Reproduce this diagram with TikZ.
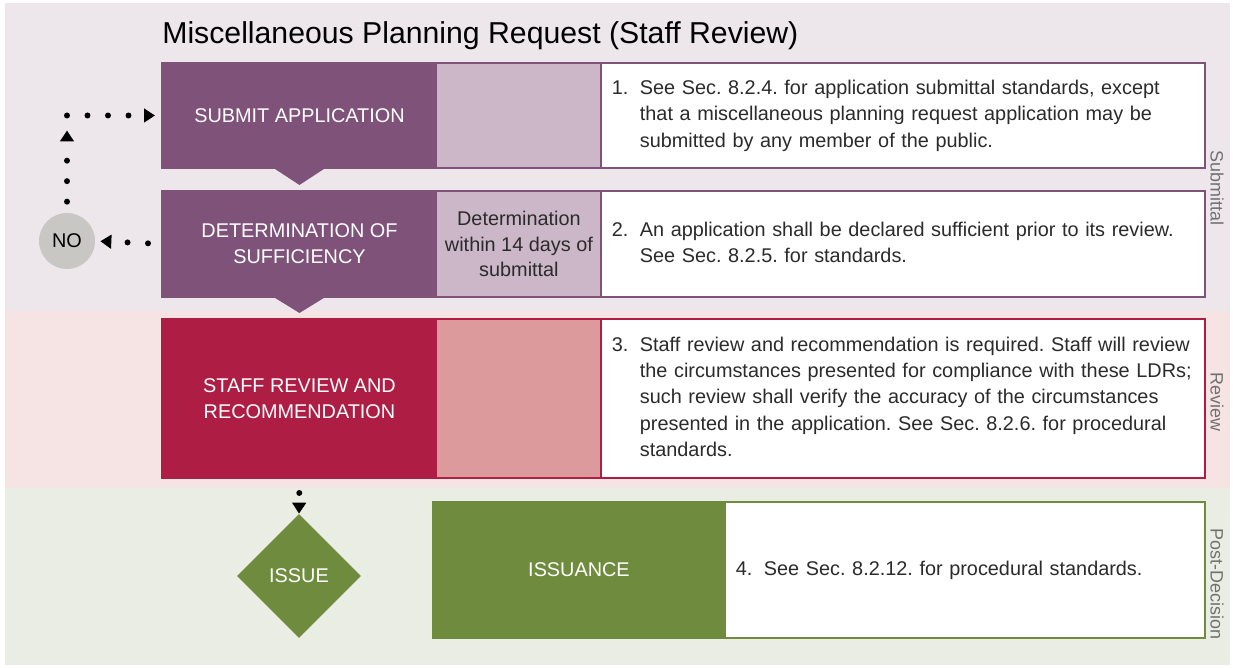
\documentclass[tikz,border=0pt]{standalone}
\usepackage{fontspec}
\setmainfont{Liberation Sans}
\frenchspacing
\usetikzlibrary{positioning,shapes.geometric,arrows.meta}
\definecolor{subband}{HTML}{EDE6EB}
\definecolor{revband}{HTML}{F6E3E3}
\definecolor{postband}{HTML}{EAEDE4}
\definecolor{purp}{HTML}{7F5279}
\definecolor{purplight}{HTML}{CBB7C8}
\definecolor{crim}{HTML}{AE1D44}
\definecolor{crimlight}{HTML}{DC9A9C}
\definecolor{leaf}{HTML}{6F8C3E}
\definecolor{nogray}{HTML}{C9C7C4}
\definecolor{sidegray}{HTML}{707070}
\definecolor{ink}{HTML}{2B2B2B}
\tikzset{
  phase/.style={fill=#1, text=white, inner sep=0pt, outer sep=0pt, align=center,
    font=\fontsize{11.3}{14.7}\selectfont},
  timing/.style={fill=#1, text=ink, inner sep=0pt, outer sep=0pt, align=center,
    font=\fontsize{11.3}{14.7}\selectfont},
  notebox/.style={draw=#1, line width=1.1pt, fill=white, text=ink, inner xsep=0.22cm,
    inner ysep=0pt, outer sep=0pt, align=left, font=\fontsize{11.3}{15}\selectfont},
  rowframe/.style={draw=#1, line width=1.1pt},
  flowdots/.style={line width=3.4pt, line cap=round, dash pattern=on 0pt off 0.41cm,
    -{Triangle[length=0.22cm,width=0.27cm]}},
  sidelabel/.style={rotate=-90, text=sidegray, inner sep=0pt, font=\fontsize{10.2}{12}\selectfont}
}
\newcommand{\stepnote}[2]{\begin{tabular}{@{}p{0.56cm}@{}l@{}}#1 & #2\end{tabular}}

\begin{document}
\begin{tikzpicture}[x=0.02cm, y=-0.02cm]
	\useasboundingbox (0,0) rectangle (1233,668);
	\fill[subband] (5,3) rectangle (1230,311);
	\fill[revband] (5,311) rectangle (1230,488);
	\fill[postband] (5,488) rectangle (1230,665);

	\node[anchor=base west, inner sep=0pt, font=\fontsize{17.2}{20}\selectfont] (title) at (162,44) {Miscellaneous Planning Request (Staff Review)};

	\node[phase=purp, anchor=north west, minimum width=5.5cm, minimum height=2.1cm] (submit) at (162,63) {SUBMIT APPLICATION};
	\node[timing=purplight, right=0pt of submit, minimum width=3.28cm, minimum height=2.1cm] (submittime) {};
	\node[notebox=purp, right=0pt of submittime, text width=11.64cm, minimum height=2.1cm] (note1) {\stepnote{1.}{See Sec. 8.2.4. for application submittal standards, except\\ & that a miscellaneous planning request application may be\\ & submitted by any member of the public.}};
	\draw[rowframe=purp] (submit.north west) rectangle (note1.south east);
	\fill[purp] (submit.south) ++(-26,0) -- ++(52,0) -- ++(-26,17) -- cycle;

	\node[phase=purp, anchor=north west, minimum width=5.5cm, minimum height=2.12cm] (determ) at (162,191) {DETERMINATION OF\\SUFFICIENCY};
	\node[timing=purplight, right=0pt of determ, minimum width=3.28cm, minimum height=2.12cm] (determtime) {Determination\\within 14 days of\\submittal};
	\node[notebox=purp, right=0pt of determtime, text width=11.64cm, minimum height=2.12cm] (note2) {\stepnote{2.}{An application shall be declared sufficient prior to its review.\\ & See Sec. 8.2.5. for standards.}};
	\draw[rowframe=purp] (determ.north west) rectangle (note2.south east);
	\fill[purp] (determ.south) ++(-26,0) -- ++(52,0) -- ++(-26,16) -- cycle;

	\node[phase=crim, anchor=north west, minimum width=5.5cm, minimum height=3.18cm] (staff) at (162,319) {STAFF REVIEW AND\\RECOMMENDATION};
	\node[timing=crimlight, right=0pt of staff, minimum width=3.28cm, minimum height=3.18cm] (stafftime) {};
	\node[notebox=crim, right=0pt of stafftime, text width=11.64cm, minimum height=3.18cm] (note3) {\stepnote{3.}{Staff review and recommendation is required. Staff will review\\ & the circumstances presented for compliance with these LDRs;\\ & such review shall verify the accuracy of the circumstances\\ & presented in the application. See Sec. 8.2.6. for procedural\\ & standards.}};
	\draw[rowframe=crim] (staff.north west) rectangle (note3.south east);

	\node[diamond, aspect=1, fill=leaf, text=white, inner sep=0pt, minimum size=2.48cm, font=\fontsize{11.3}{14.7}\selectfont] (issue) at (299,576) {ISSUE};
	\node[phase=leaf, anchor=north west, minimum width=5.84cm, minimum height=2.72cm] (issuance) at (433,502) {ISSUANCE};
	\node[notebox=leaf, right=0pt of issuance, text width=9.16cm, minimum height=2.72cm] (note4) {\stepnote{4.}{See Sec. 8.2.12. for procedural standards.}};
	\draw[rowframe=leaf] (issuance.north west) rectangle (note4.south east);

	\node[circle, fill=nogray, inner sep=0pt, minimum size=1.12cm, font=\fontsize{11.3}{14.7}\selectfont] (no) at (67,241) {NO};
	\coordinate (turn) at (no |- submit.west);
	\draw[flowdots, shorten <=0.28cm, shorten >=0.1cm] (determ.west) -- (no.east);
	\draw[flowdots, shorten <=0.22cm, shorten >=0.3cm] (no.north) -- (turn);
	\draw[flowdots, shorten >=0.14cm] (turn) -- (submit.west);
	\draw[flowdots, shorten <=0.3cm] (staff.south) -- (issue.north);

	\node[sidelabel] (lblsub) at (1217,188) {Submittal};
	\node[sidelabel] (lblrev) at (1217,402) {Review};
	\node[sidelabel] (lblpost) at (1217,584) {Post-Decision};
\end{tikzpicture}
\end{document}
